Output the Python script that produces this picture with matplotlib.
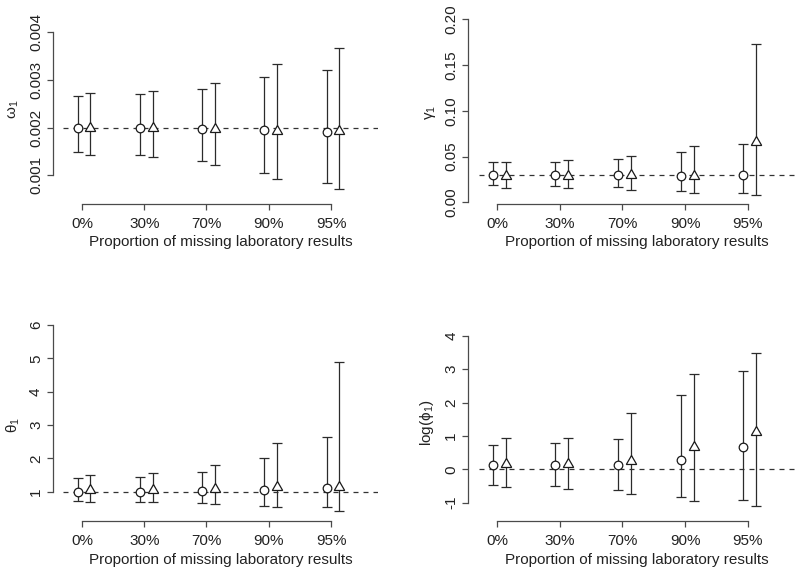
import matplotlib
matplotlib.use('Agg')
import matplotlib.pyplot as plt
import numpy as np

plt.rcParams['font.family'] = ['Liberation Sans', 'DejaVu Sans']
plt.rcParams['mathtext.fontset'] = 'dejavusans'

props = ['0%', '30%', '70%', '90%', '95%']

# omega_1
omega_circ = [0.0020, 0.0020, 0.00198, 0.00196, 0.0019]
omega_circ_lo = [0.00148, 0.00143, 0.00131, 0.00106, 0.00084]
omega_circ_hi = [0.00267, 0.00271, 0.00281, 0.00307, 0.00320]
omega_tri = [0.0020, 0.00199, 0.00197, 0.00194, 0.00193]
omega_tri_lo = [0.00143, 0.00138, 0.00121, 0.00092, 0.00071]
omega_tri_hi = [0.00273, 0.00277, 0.00294, 0.00334, 0.00368]

# gamma_1
gamma_circ = [0.030, 0.030, 0.030, 0.029, 0.030]
gamma_circ_lo = [0.019, 0.018, 0.017, 0.0124, 0.0106]
gamma_circ_hi = [0.0438, 0.0445, 0.0478, 0.0551, 0.0639]
gamma_tri = [0.029, 0.029, 0.030, 0.029, 0.066]
gamma_tri_lo = [0.016, 0.016, 0.0135, 0.0102, 0.0084]
gamma_tri_hi = [0.0442, 0.0464, 0.0507, 0.061, 0.173]

# theta_1
theta_circ = [1.0, 1.0, 1.03, 1.06, 1.10]
theta_circ_lo = [0.72, 0.70, 0.67, 0.58, 0.53]
theta_circ_hi = [1.42, 1.45, 1.58, 2.02, 2.65]
theta_tri = [1.04, 1.06, 1.08, 1.13, 1.15]
theta_tri_lo = [0.70, 0.68, 0.63, 0.53, 0.43]
theta_tri_hi = [1.50, 1.57, 1.79, 2.47, 4.88]

# log(phi_1)
phi_circ = [0.12, 0.12, 0.12, 0.27, 0.68]
phi_circ_lo = [-0.48, -0.51, -0.62, -0.82, -0.93]
phi_circ_hi = [0.73, 0.78, 0.90, 2.22, 2.95]
phi_tri = [0.17, 0.16, 0.24, 0.66, 1.13]
phi_tri_lo = [-0.53, -0.60, -0.73, -0.94, -1.10]
phi_tri_hi = [0.93, 0.95, 1.70, 2.86, 3.49]

true_vals = [0.002, 0.03, 1, 0]

W, H = 800, 574
fig = plt.figure(figsize=(8, 5.74), dpi=100)

tri = (3, 0, 0)  # equilateral triangle, centred on its centroid like R's pch=2
ecol = '#2b2b2b'
acol = '#4a4a4a'


def panel(box, ylim, yticks, ylabels, ylab, lab_xy, truth, circ, clo, chi, trv, tlo, thi):
    l, r, t, b = box
    ax = fig.add_axes([l / W, 1 - b / H, (r - l) / W, (b - t) / H])
    x = np.arange(1, 6)
    xc = x - 0.07
    xt = x + 0.135
    ax.axhline(truth, color='#333333', lw=0.9, dashes=(4, 4), zorder=1)
    for xx, m, lo, hi, mk, ms in [(xc, circ, clo, chi, 'o', 6.2), (xt, trv, tlo, thi, tri, 8.6)]:
        m = np.array(m)
        err = [m - np.array(lo), np.array(hi) - m]
        ax.errorbar(xx, m, yerr=err, fmt='none', ecolor=ecol, elinewidth=0.9,
                    capsize=3.3, capthick=0.9, zorder=2)
        ax.plot(xx, m, linestyle='none', marker=mk, ms=ms, mfc='white',
                mec='#1a1a1a', mew=0.9, zorder=3)
    ax.set_xlim(0.7, 5.75)
    ax.set_ylim(*ylim)
    for s in ['top', 'right']:
        ax.spines[s].set_visible(False)
    ax.spines['left'].set_position(('outward', 7.4))
    ax.spines['left'].set_bounds(yticks[0], yticks[-1])
    ax.spines['bottom'].set_bounds(1, 5)
    for s in ['left', 'bottom']:
        ax.spines[s].set_color(acol)
        ax.spines[s].set_linewidth(0.9)
    ax.set_xticks(x)
    ax.set_xticklabels(props)
    ax.set_yticks(yticks)
    ax.set_yticklabels(ylabels, rotation=90, va='center')
    ax.tick_params(axis='both', length=4.2, width=0.9, color=acol, labelsize=11,
                   labelcolor='#222222')
    ax.tick_params(axis='x', pad=5.5)
    ax.tick_params(axis='y', pad=3)
    ax.set_xlabel('Proportion of missing laboratory results', fontsize=11,
                  color='#222222', labelpad=3)
    ax.set_ylabel(ylab, fontsize=11, color='#222222', va='center')
    lx, ly = lab_xy
    ax.yaxis.set_label_coords((lx - l) / (r - l), (b - ly) / (b - t))
    return ax


panel((63.3, 377.7, 15, 203.5), (0.00041, 0.004364), [0.001, 0.002, 0.003, 0.004],
      ['0.001', '0.002', '0.003', '0.004'], r'$\mathregular{ω_1}$', (13.5, 109), true_vals[0],
      omega_circ, omega_circ_lo, omega_circ_hi, omega_tri, omega_tri_lo, omega_tri_hi)

panel((478.5, 794.6, 15, 203.5), (-0.0013, 0.2047), [0, 0.05, 0.10, 0.15, 0.20],
      ['0.00', '0.05', '0.10', '0.15', '0.20'], r'$\mathregular{γ_1}$', (430, 112), true_vals[1],
      gamma_circ, gamma_circ_lo, gamma_circ_hi, gamma_tri, gamma_tri_lo, gamma_tri_hi)

panel((63.3, 377.7, 305, 521), (0.121, 6.6), [1, 2, 3, 4, 5, 6],
      ['1', '2', '3', '4', '5', '6'], r'$\mathregular{θ_1}$', (13.5, 425), true_vals[2],
      theta_circ, theta_circ_lo, theta_circ_hi, theta_tri, theta_tri_lo, theta_tri_hi)

panel((478.5, 794.6, 305, 521), (-1.548, 4.92), [-1, 0, 1, 2, 3, 4],
      ['-1', '0', '1', '2', '3', '4'], r'$\mathregular{log(ϕ_1)}$', (427.5, 423), true_vals[3],
      phi_circ, phi_circ_lo, phi_circ_hi, phi_tri, phi_tri_lo, phi_tri_hi)

plt.savefig('out.png', dpi=100)
